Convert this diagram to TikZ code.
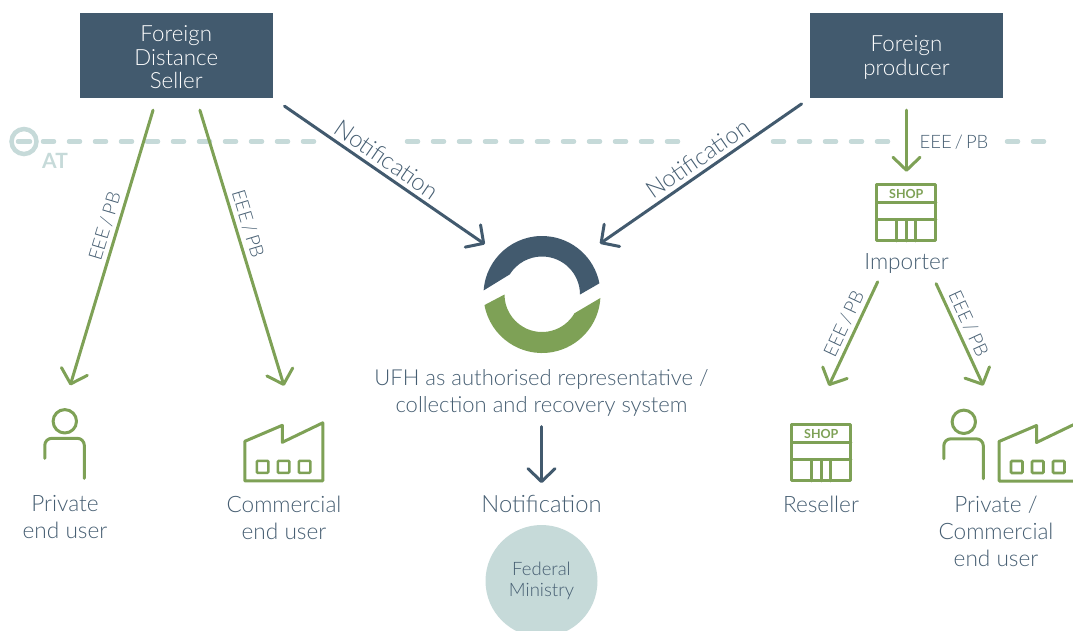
\documentclass[tikz,border=0pt]{standalone}
\usepackage{fontspec}
\setmainfont{Lato}[UprightFont=* Light, BoldFont=* Bold]
\usetikzlibrary{arrows.meta, calc}
\definecolor{ufhblue}{HTML}{425A6E}
\definecolor{ufhtext}{HTML}{465E72}
\definecolor{ufhgreen}{HTML}{7EA156}
\definecolor{ufhpale}{HTML}{C6DAD9}
\newcommand{\boxstrut}{\rule{0pt}{20pt}}

\tikzset{
	box/.style={rectangle, fill=ufhblue, text=white, align=center, minimum width=193pt, minimum height=85pt, inner sep=0pt, node font=\fontsize{22.3}{23.5}\selectfont},
	caption/.style={align=center, text=ufhtext, inner sep=0pt, node font=\fontsize{22.6}{27}\selectfont},
	icon/.style={rectangle, inner sep=0pt},
	onedge/.style={sloped, above, text=ufhtext, inner sep=4pt, node font=\fontsize{18.8}{22}\selectfont},
	greenline/.style={ufhgreen, line width=3pt, line cap=round, -{Straight Barb[length=13pt,width=27pt,round]}},
	blueline/.style={ufhblue, line width=3pt, line cap=round, -{Straight Barb[length=13pt,width=27pt,round]}},
	border/.style={ufhpale, line width=4.5pt, line cap=round, dash pattern=on 11pt off 15pt},
	iconline/.style={ufhgreen, line width=3pt, line cap=round, line join=round},
	person/.pic={
		\draw[iconline] (20,12) circle[radius=11.7pt];
		\draw[iconline, rounded corners=7pt] (0,49) -- (0,29) -- (39.5,29) -- (39.5,69);
	},
	factory/.pic={
		\draw[iconline] (0,19.5) -- (37.5,3.5) -- (37.5,20.5) -- (78,1) -- (78,59) -- (0,59) -- cycle;
		\foreach \winx in {12,33,54}
			\draw[ufhgreen, line width=2.6pt, rounded corners=1pt] (\winx,39) rectangle ++(11.5,12);
	},
	shop/.pic={
		\draw[iconline] (0,0) rectangle (59,56);
		\draw[iconline] (0,18) -- (59,18) (0,35) -- (59,35) (20,35) -- (20,56) (29.5,35) -- (29.5,56) (39,35) -- (39,56);
		\node[text=ufhgreen, inner sep=0pt, node font=\fontsize{12.5}{12.5}\selectfont\bfseries] (-word) at (29.5,9) {SHOP};
	},
}

\begin{document}
\begin{tikzpicture}[x=1pt,y=-1pt]
	\path[use as bounding box, clip] (0,0) rectangle (1073,630);

	% border of Austria
	\coordinate (B1a) at (43,141.5);	\coordinate (B1b) at (317,141.5);
	\coordinate (B2a) at (407,141.5);	\coordinate (B2b) at (683,141.5);
	\coordinate (B3a) at (773,141.5);	\coordinate (B3b) at (893,141.5);
	\coordinate (B4a) at (1007,141.5);	\coordinate (B4b) at (1044,141.5);
	\draw[border] (B1a) -- (B1b) (B2a) -- (B2b) (B3a) -- (B3b) (B4a) -- (B4b);
	\node[circle, draw=ufhpale, line width=4.5pt, minimum size=25pt, inner sep=0pt] (AT_SIGN) at (24,141.5) {};
	\draw[ufhpale, line width=4.5pt, line cap=round] (AT_SIGN.center) +(-6,0) -- +(6,0);
	\node[text=ufhpale, inner sep=0pt, node font=\fontsize{21}{21}\selectfont\bfseries] (AT) at (55,161) {AT};

	\node[box] (FDS) at (176.25,55.5) {\boxstrut Foreign\\Distance\\Seller};
	\node[box] (FP) at (906.5,55.5) {\boxstrut Foreign\\producer};

	% ring
	\coordinate (RC) at (542,294.5);
	\fill[ufhblue] (RC) ++(176:58.5pt) arc[start angle=176, end angle=11, radius=58.5pt] -- ($(RC)+(0:38pt)$) arc[start angle=0, end angle=148, radius=38pt] -- cycle;
	\fill[ufhgreen] (RC) ++(190.4:58.5pt) arc[start angle=190.4, end angle=356.6, radius=58.5pt] -- ($(RC)+(330:37.5pt)$) arc[start angle=330, end angle=180, radius=37.5pt] -- cycle;
	\node[circle, minimum size=117pt, inner sep=0pt] (RING) at (RC) {};

	\node[caption, node font=\fontsize{22}{27}\selectfont] (UFH) at (541.5,393) {UFH as authorised representative /\\collection and recovery system};
	\node[caption, node font=\fontsize{23.8}{27}\selectfont] (NOTIF) at (541.5,504) {Notification};
	\node[circle, fill=ufhpale, minimum size=112pt, inner sep=0pt] (FED) at (541.5,581) {};
	\node[caption, node font=\fontsize{18.5}{21}\selectfont] (FED_T) at (541.5,580.5) {Federal\\Ministry};

	% icons
	\node[icon, minimum width=40pt, minimum height=71pt] (PRIVATE_I) at (65,445) {};
	\node[icon, minimum width=78pt, minimum height=59pt] (COMM_I) at (284,451.5) {};
	\node[icon, minimum width=59pt, minimum height=56pt] (IMP_I) at (906.5,213) {};
	\node[icon, minimum width=59pt, minimum height=56pt] (RES_I) at (821.5,453) {};
	\node[icon, minimum width=129pt, minimum height=71pt] (PC_I) at (1008.5,445.5) {};
	\pic at (PRIVATE_I.north west) {person};
	\pic at (COMM_I.north west) {factory};
	\pic (shop_imp) at (IMP_I.north west) {shop};
	\pic (shop_res) at (RES_I.north west) {shop};
	\pic at (PC_I.north west) {person};
	\pic at (999,422) {factory};

	\node[caption] (PRIVATE) at (65,517.5) {Private\\end user};
	\node[caption] (COMM) at (284,517.5) {Commercial\\end user};
	\node[caption] (IMP) at (906.5,263.5) {Importer};
	\node[caption] (RES) at (821,504) {Reseller};
	\node[caption] (PC) at (996,531) {Private /\\Commercial\\end user};

	\draw	([xshift=-19.6pt]FDS.south)	edge[greenline, shorten <=12.5pt, shorten >=25pt]	node[onedge, pos=.423]{EEE\,/\,PB}	([xshift=-2pt]PRIVATE_I.north)
			([xshift=20pt]FDS.south)	edge[greenline, shorten <=12.5pt, shorten >=37.6pt]	node[onedge, pos=.40]{EEE\,/\,PB}	([xshift=11pt]COMM_I.north)
			([xshift=-25pt]IMP.south)	edge[greenline, shorten <=9pt, shorten >=43pt]		node[onedge, pos=.367]{EEE\,/\,PB}	([xshift=-11pt]RES_I.north)
			([xshift=25pt]IMP.south)	edge[greenline, shorten <=11pt, shorten >=26.6pt]	node[onedge, pos=.405]{EEE\,/\,PB}	([xshift=-14pt]PC_I.north)
			(FP.south)					edge[greenline, shorten <=12pt, shorten >=13pt]								(IMP_I.north)
			(FDS.south east)			edge[blueline, shorten <=14pt, shorten >=19pt]		node[onedge, pos=.465, node font=\fontsize{23.8}{23}\selectfont]{Notification}	([yshift=-2pt]RING.north west)
			(FP.south west)				edge[blueline, shorten <=10pt, shorten >=20pt]		node[onedge, pos=.46, node font=\fontsize{23.8}{23}\selectfont]{Notification}	([yshift=-2pt]RING.north east)
			(UFH.south)					edge[blueline, shorten <=10pt, shorten >=12pt]								(NOTIF.north)
			;
	\node[text=ufhtext, inner sep=0pt, node font=\fontsize{18.5}{22}\selectfont] (EEE_FP) at (954,142) {EEE\,/\,PB};
\end{tikzpicture}
\end{document}
